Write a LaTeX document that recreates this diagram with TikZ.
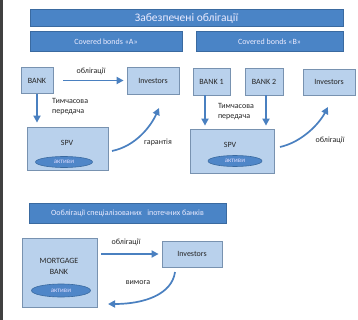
\documentclass[tikz,border=0pt]{standalone}
\usepackage{fontspec}
\setmainfont{Carlito}
\usetikzlibrary{arrows.meta,calc,shapes.geometric}
\definecolor{barblue}{HTML}{4A84C6}
\definecolor{bardraw}{HTML}{3A6AA0}
\definecolor{boxfill}{HTML}{B9D1EC}
\definecolor{boxdraw}{HTML}{7892B0}
\definecolor{arrblue}{HTML}{4A80C0}
\definecolor{elfill}{HTML}{4F86C8}
\definecolor{txtdark}{HTML}{262626}
\tikzset{
  bar/.style={draw=bardraw, line width=1pt, fill=barblue, text=white!92!blue, inner sep=0pt},
  box/.style={draw=boxdraw, line width=0.8pt, fill=boxfill, text=txtdark, inner sep=0pt, align=center, font=\fontsize{8}{9.5}\selectfont},
  assets/.style={ellipse, draw=bardraw, line width=0.6pt, fill=elfill, text=white!85!blue, inner sep=0pt, font=\fontsize{7}{8}\selectfont},
  lbl/.style={text=txtdark, inner sep=0pt, font=\fontsize{8}{9.5}\selectfont},
  arr/.style={draw=arrblue, line width=1.7pt, -{Triangle[length=7pt,width=7pt]}},
}
\begin{document}
\begin{tikzpicture}[x=1pt,y=-1pt]
\useasboundingbox (0,0) rectangle (358,320);
\fill[white] (0,0) rectangle (358,320);
\fill[black!75] (0,0) rectangle (2.5,320);
% bars
\node[bar, minimum width=313pt, minimum height=17pt, font=\fontsize{11.5}{13}\selectfont] (title) at (186.5,18.5) {Забезпечені облігації};
\node[bar, minimum width=152pt, minimum height=20pt, font=\fontsize{8}{9.5}\selectfont] (barA) at (106,42) {Covered bonds «A»};
\node[bar, minimum width=147pt, minimum height=20pt, font=\fontsize{8}{9.5}\selectfont] (barB) at (269.5,42) {Covered bonds «B»};
\node[bar, minimum width=197pt, minimum height=20pt, font=\fontsize{8}{9.5}\selectfont] (barC) at (127.5,213) {Ооблігації спеціалізованих\ \ \ іпотечних банків};
% panel A
\node[box, minimum width=32pt, minimum height=26pt] (bank) at (37,80.5) {BANK};
\node[box, minimum width=52pt, minimum height=27pt] (invA) at (153,81) {Investors};
\node[box, minimum width=81pt, minimum height=43pt] (spvA) at (67.5,148.5) {};
\node[lbl] (spvAt) at (67,143) {SPV};
\node[assets, minimum width=57pt, minimum height=11pt] (astA) at (64,162) {активи};
\draw[arr, shorten <=10pt, shorten >=3pt] (bank.east) -- (bank.east -| invA.west);
\draw[arr, shorten >=4pt] (bank.south) -- (bank.south |- spvA.north);
\coordinate (gs) at (112,151);
\coordinate (ge) at (159,108);
\draw[arr] (gs) .. controls (136,146) and (151,126) .. (ge);
\node[lbl] (lobA) at (91,71) {облігації};
\node[lbl, align=left, anchor=west] (ltA) at (52,106.5) {Тимчасова\\[1pt]передача};
\node[lbl] (lgar) at (158,142) {гарантія};
% panel B
\node[box, minimum width=37pt, minimum height=27pt] (bank1) at (211.5,81.5) {BANK 1};
\node[box, minimum width=38pt, minimum height=27pt] (bank2) at (264,81.5) {BANK 2};
\node[box, minimum width=52pt, minimum height=26pt] (invB) at (329,82) {Investors};
\node[box, minimum width=84pt, minimum height=44pt] (spvB) at (232,151) {};
\node[lbl] (spvBt) at (230,145) {SPV};
\node[assets, minimum width=54pt, minimum height=11pt] (astB) at (235,161) {активи};
\draw[arr, shorten >=3pt] ([xshift=-6.5pt]bank1.south) -- ([xshift=-6.5pt]bank1.south |- spvB.north);
\draw[arr, shorten >=3pt] ([xshift=2pt]bank2.south) -- ([xshift=2pt]bank2.south |- spvB.north);
\coordinate (bs) at (280,147);
\coordinate (be) at (328,107);
\draw[arr] (bs) .. controls (302,142) and (319,124) .. (be);
\node[lbl, align=left] (ltB) at (236,111.5) {Тимчасова\\[1pt]передача};
\node[lbl] (lobB) at (330,140) {облігації};
% panel C
\node[box, minimum width=75pt, minimum height=69pt] (mb) at (59.5,272.5) {};
\node[lbl, align=center] (mbt) at (59,266.5) {MORTGAGE\\[2pt]BANK};
\node[assets, minimum width=59pt, minimum height=13pt] (astC) at (61,290.5) {активи};
\node[box, minimum width=60pt, minimum height=26pt] (invC) at (192,254) {Investors};
\draw[arr, shorten <=4pt, shorten >=3pt] (invC.west -| mb.east) -- (invC.west);
\coordinate (vs) at (175,272);
\coordinate (ve) at (108,304);
\draw[arr] (vs) .. controls (172,294) and (145,304) .. (ve);
\node[lbl] (lobC) at (126,242) {облігації};
\node[lbl] (lvym) at (138,283) {вимога};
\end{tikzpicture}
\end{document}
